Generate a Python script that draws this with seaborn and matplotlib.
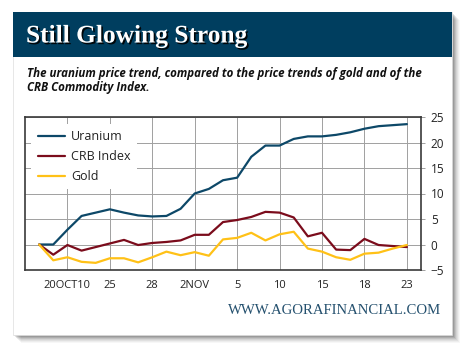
import pandas as pd
import matplotlib.pyplot as plt
import matplotlib.patheffects as pe
from matplotlib.patches import Rectangle
import seaborn as sns

# trading days 18 Oct 2010 .. 23 Nov 2010, % change
days = ['18OCT', '19OCT', '20OCT', '21OCT', '22OCT', '25OCT', '26OCT', '27OCT', '28OCT',
        '29OCT', '1NOV', '2NOV', '3NOV', '4NOV', '5NOV', '8NOV', '9NOV', '10NOV', '11NOV',
        '12NOV', '15NOV', '16NOV', '17NOV', '18NOV', '19NOV', '22NOV', '23NOV']
uranium = [0, 0, 2.9, 5.6, 6.25, 6.9, 6.25, 5.7, 5.5, 5.6, 7.0, 10.0, 10.9, 12.6, 13.1,
           17.2, 19.4, 19.4, 20.7, 21.2, 21.2, 21.5, 22.0, 22.7, 23.2, 23.4, 23.6]
crb = [0, -2.0, -0.1, -1.2, -0.5, 0.2, 0.9, -0.1, 0.3, 0.5, 0.8, 1.9, 1.9, 4.4, 4.8,
       5.4, 6.4, 6.25, 5.3, 1.6, 2.3, -1.0, -1.1, 1.1, -0.1, -0.3, -0.5]
gold = [0, -3.1, -2.5, -3.4, -3.6, -2.7, -2.7, -3.5, -2.5, -1.4, -2.1, -1.5, -2.2, 1.0, 1.3,
        2.3, 0.8, 2.0, 2.5, -0.8, -1.4, -2.5, -3.0, -1.8, -1.6, -0.8, -0.1]
tick_labels = ['20OCT10', '25', '28', '2NOV', '5', '10', '15', '18', '23']
series_names = ['Uranium', 'CRB Index', 'Gold']
colors = ['#0d4868', '#7b0c1c', '#ffc117']

rows = []
for name, vals in zip(series_names, [uranium, crb, gold]):
    for i, v in enumerate(vals):
        rows.append({'pos': i, 'value': v, 'series': name})
df = pd.DataFrame(rows)

sns.set_style('white')
plt.rcParams['font.family'] = ['Open Sans', 'DejaVu Sans']

W, H = 470, 355
fig = plt.figure(figsize=(W / 100, H / 100), dpi=100)

def fx(px):
    return px / W

def fy(py):
    return 1 - py / H

# card shadow
for k, a in enumerate([0.12, 0.11, 0.10, 0.08, 0.06, 0.05, 0.04, 0.03]):
    off = k + 1
    fig.patches.append(Rectangle((fx(13 + off), fy(335 + off)), fx(439), (335 - 12) / H,
                                 transform=fig.transFigure, facecolor='black', alpha=a,
                                 edgecolor='none', zorder=0))
fig.patches.append(Rectangle((fx(13), fy(335)), fx(439), (335 - 12) / H,
                             transform=fig.transFigure, facecolor='white', edgecolor='#dddddd',
                             lw=0.5, zorder=1))
# header band
fig.patches.append(Rectangle((fx(13), fy(57)), fx(439), (57 - 12) / H,
                             transform=fig.transFigure, facecolor='#003e5f', edgecolor='none',
                             zorder=2))
fig.text(fx(26), fy(36), 'Still Glowing Strong', family='Liberation Serif', fontsize=18.3,
         weight='bold', color='white', va='center', ha='left', zorder=3,
         path_effects=[pe.withSimplePatchShadow(offset=(1.2, -1.2), shadow_rgbFace='black', alpha=0.9)])
fig.text(fx(27), fy(74), 'The uranium price trend, compared to the price trends of gold and of the',
         fontsize=8.3, weight='bold', style='italic', color='#111111', va='center', ha='left', zorder=3)
fig.text(fx(27), fy(88), 'CRB Commodity Index.',
         fontsize=8.3, weight='bold', style='italic', color='#111111', va='center', ha='left', zorder=3)
fig.text(fx(441), fy(310), 'WWW.AGORAFINANCIAL.COM', family='Liberation Serif', fontsize=10.6,
         color='#24506e', va='center', ha='right', zorder=3)

ax = fig.add_axes([fx(25), fy(270), fx(421 - 25), (270 - 117) / H])
ax.set_zorder(5)
sns.lineplot(data=df, x='pos', y='value', hue='series', palette=colors, linewidth=1.6,
             ax=ax, legend=True)

ax.set_xlim(-1, 27)
ax.set_ylim(-5, 25)
ax.set_xticks(range(2, 27, 3))
ax.set_xticklabels(tick_labels)
ax.set_yticks(range(-5, 30, 5))
ax.yaxis.tick_right()
ax.set_xlabel('')
ax.set_ylabel('')
ax.grid(True, color='#a0a0a0', lw=0.7)
ax.tick_params(axis='x', length=0, labelsize=8, colors='#222222', pad=7)
ax.tick_params(axis='y', length=3, width=0.7, color='#a0a0a0', labelsize=8.5,
               colors='#222222', pad=4, right=True, left=False)
for s in ax.spines.values():
    s.set_color('#3a3a3a')
    s.set_linewidth(1.2)

leg = ax.legend(loc='upper left', bbox_to_anchor=(0.0, 0.995), frameon=True, facecolor='white',
                edgecolor='none', framealpha=1, fontsize=9, handlelength=2.2,
                labelspacing=0.55, borderpad=0.5, handletextpad=0.5)
for line in leg.get_lines():
    line.set_linewidth(1.6)
for t in leg.get_texts():
    t.set_color('#222222')

fig.savefig('out.png', dpi=100)
